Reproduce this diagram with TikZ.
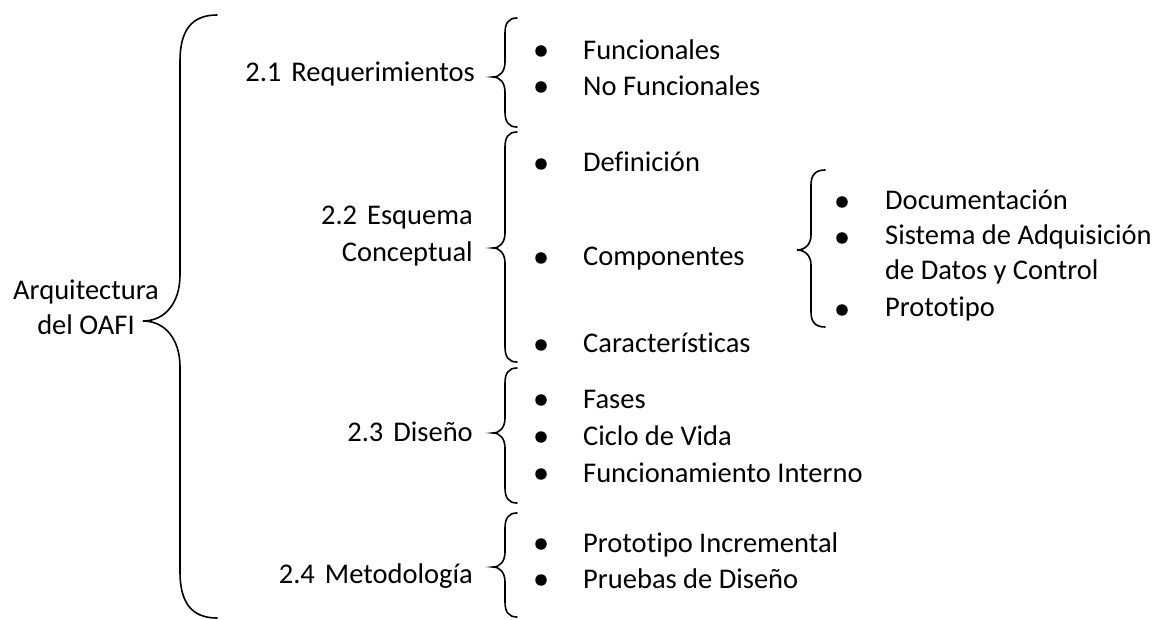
\documentclass[tikz,border=0pt]{standalone}
\usepackage{fontspec}
\setmainfont{Carlito}[Ligatures=NoCommon]
\usepackage{tikz}

% llave: x of the line, top, tip, bottom, half width, curl
\newcommand{\llave}[6]{%
\draw[trazo] (#1+#5,#2) .. controls (#1+0.3*#5,#2) and (#1,#2+0.35*#6) .. (#1,#2+#6)
  -- (#1,#3-#6) .. controls (#1,#3-0.4*#6) and (#1-0.4*#5,#3) .. (#1-#5,#3)
  .. controls (#1-0.4*#5,#3) and (#1,#3+0.4*#6) .. (#1,#3+#6)
  -- (#1,#4-#6) .. controls (#1,#4-0.35*#6) and (#1+0.3*#5,#4) .. (#1+#5,#4);}

\begin{document}
\begin{tikzpicture}[x=1pt, y=-1pt, font=\fontsize{28.5}{35.5}\selectfont]
\tikzset{tema/.style={inner sep=0, anchor=base east, align=right}}
\tikzset{elem/.style={inner sep=0, anchor=base west, align=left}}
\tikzset{bala/.style={circle, fill, inner sep=0, minimum size=11.5pt}}
\tikzset{trazo/.style={line width=1.6pt, line cap=round}}
\useasboundingbox (0,0) rectangle (1168,620);
\node[inner sep=0, anchor=base, align=center] (OAFI) at (86,335) {Arquitectura\\del OAFI};
\node[tema] (T1) at (475,82) {2.1\hspace{10pt}Requerimientos};
\node[tema] (T2) at (473,262) {2.2\hspace{10pt}Esquema\\[1.5pt]Conceptual};
\node[tema] (T3) at (473,442) {2.3\hspace{10pt}Diseño};
\node[tema] (T4) at (473,583) {2.4\hspace{10pt}Metodología};
\llave{180}{15}{321}{618}{37}{46}
\llave{505}{18}{77}{127}{12}{15}
\llave{505}{132}{248}{362}{12}{15}
\llave{505}{368}{433}{503}{12}{15}
\llave{505}{513}{567}{617}{12}{15}
\llave{811}{170}{250}{327}{14}{15}
\node[elem] (E1) at (583,60) {Funcionales};
\node[elem] (E2) at (583,96) {No Funcionales};
\node[elem] (E3) at (583,172) {Definición};
\node[elem] (E4) at (583,266) {Componentes};
\node[elem] (E5) at (583,353) {Características};
\node[elem] (E6) at (583,408) {Fases};
\node[elem] (E7) at (583,445) {Ciclo de Vida};
\node[elem] (E8) at (583,482) {Funcionamiento Interno};
\node[elem] (E9) at (583,552) {Prototipo Incremental};
\node[elem] (E10) at (583,588) {Pruebas de Diseño};
\node[elem] (S1) at (885,210) {Documentación};
\node[elem] (S2) at (885,280) {Sistema de Adquisición\\de Datos y Control};
\node[elem] (S3) at (885,317) {Prototipo};
\node[bala] (B1) at (541,51) {};
\node[bala] (B2) at (541,87) {};
\node[bala] (B3) at (541,164) {};
\node[bala] (B4) at (541,258) {};
\node[bala] (B5) at (541,345) {};
\node[bala] (B6) at (541,400) {};
\node[bala] (B7) at (541,437) {};
\node[bala] (B8) at (541,474) {};
\node[bala] (B9) at (541,544) {};
\node[bala] (B10) at (541,580) {};
\node[bala] (C1) at (842,202) {};
\node[bala] (C2) at (842,238) {};
\node[bala] (C3) at (842,310) {};
\end{tikzpicture}
\end{document}
